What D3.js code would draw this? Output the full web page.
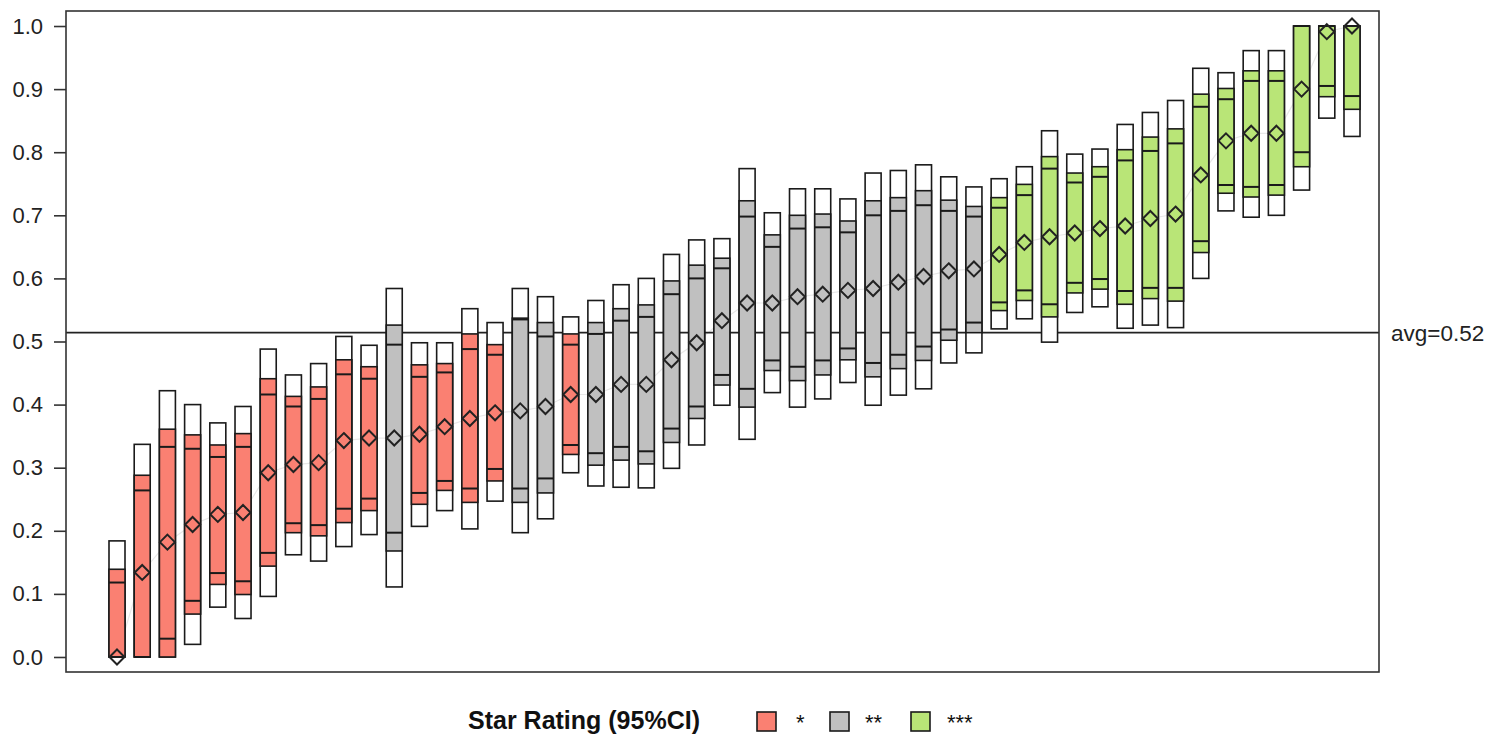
<!DOCTYPE html>
<html>
<head>
<meta charset="utf-8">
<script src="https://cdn.jsdelivr.net/npm/d3@7"></script>
<style>
  html, body { margin: 0; padding: 0; background: #fff; }
  svg { display: block; font-family: "Liberation Sans", Arial, sans-serif; }
</style>
</head>
<body>
<svg id="chart" width="1491" height="735"></svg>
<script>
// ---- data ----
const stars = [1,1,1,1,1,1,1,1,1,1,1,2,1,1,1,1,2,2,1,2,2,2,2,2,2,2,2,2,2,2,2,2,2,2,2,3,3,3,3,3,3,3,3,3,3,3,3,3,3,3];
const value = [0.000,0.134,0.182,0.210,0.226,0.229,0.292,0.305,0.308,0.343,0.347,0.347,0.353,0.365,0.378,0.387,0.390,0.397,0.416,0.416,0.432,0.432,0.471,0.498,0.533,0.561,0.561,0.571,0.575,0.581,0.584,0.594,0.603,0.612,0.615,0.638,0.657,0.666,0.672,0.679,0.683,0.695,0.702,0.764,0.818,0.830,0.830,0.900,0.991,1.000];
const outerHi = [0.184,0.337,0.422,0.400,0.371,0.397,0.488,0.447,0.465,0.508,0.494,0.584,0.498,0.498,0.552,0.530,0.584,0.571,0.539,0.565,0.590,0.600,0.638,0.661,0.663,0.774,0.704,0.742,0.742,0.726,0.767,0.771,0.780,0.761,0.745,0.758,0.777,0.834,0.797,0.805,0.844,0.863,0.882,0.933,0.926,0.961,0.961,1.000,1.000,1.000];
const midHi = [0.139,0.288,0.361,0.352,0.336,0.354,0.441,0.413,0.428,0.471,0.460,0.526,0.463,0.465,0.512,0.495,0.537,0.530,0.512,0.530,0.552,0.558,0.596,0.621,0.632,0.723,0.669,0.700,0.702,0.691,0.723,0.728,0.739,0.724,0.714,0.728,0.749,0.793,0.767,0.777,0.804,0.824,0.837,0.892,0.901,0.929,0.929,1.000,1.000,1.000];
const innerHi = [0.118,0.264,0.333,0.330,0.317,0.333,0.416,0.397,0.409,0.448,0.441,0.495,0.444,0.451,0.488,0.479,0.535,0.508,0.495,0.512,0.533,0.539,0.575,0.600,0.616,0.698,0.650,0.679,0.681,0.673,0.700,0.707,0.716,0.707,0.698,0.712,0.732,0.774,0.752,0.761,0.787,0.802,0.814,0.872,0.884,0.913,0.913,1.000,1.000,1.000];
const innerLo = [0.000,0.000,0.029,0.089,0.133,0.120,0.165,0.212,0.209,0.235,0.251,0.197,0.260,0.279,0.267,0.298,0.267,0.283,0.336,0.323,0.333,0.326,0.362,0.397,0.447,0.425,0.470,0.460,0.470,0.489,0.466,0.479,0.492,0.519,0.530,0.562,0.581,0.559,0.593,0.599,0.580,0.585,0.585,0.659,0.748,0.745,0.748,0.800,0.905,0.889];
const midLo = [0.000,0.000,0.000,0.068,0.115,0.099,0.144,0.197,0.192,0.213,0.232,0.168,0.242,0.264,0.245,0.279,0.245,0.260,0.321,0.304,0.312,0.306,0.340,0.378,0.431,0.396,0.454,0.438,0.447,0.471,0.444,0.457,0.470,0.502,0.514,0.549,0.565,0.539,0.577,0.583,0.559,0.568,0.564,0.641,0.735,0.729,0.732,0.777,0.888,0.868];
const outerLo = [0.000,0.000,0.000,0.020,0.079,0.061,0.096,0.162,0.152,0.175,0.194,0.111,0.207,0.232,0.203,0.247,0.197,0.219,0.292,0.271,0.269,0.268,0.299,0.336,0.399,0.345,0.419,0.396,0.409,0.435,0.399,0.415,0.425,0.466,0.482,0.520,0.536,0.499,0.546,0.555,0.521,0.526,0.522,0.600,0.707,0.697,0.700,0.740,0.854,0.825];
const avgValue = 0.514;
const avgLabel = "avg=0.52";
const yTicks = [0.0,0.1,0.2,0.3,0.4,0.5,0.6,0.7,0.8,0.9,1.0];
const legendTitle = "Star Rating (95%CI)";
const legendLabels = ["*", "**", "***"];
const starColors = {1: "#FA8072", 2: "#C0C0C0", 3: "#B9E577"};

// ---- layout ----
const svg = d3.select("#chart");
const frame = {left: 66, right: 1379, top: 11, bottom: 672};
const ids = d3.range(value.length);
const x = d3.scalePoint().domain(ids).range([117, 1352]);
const y = d3.scaleLinear().domain([-0.0238, 1.0238]).range([frame.bottom, frame.top]);
const bw = 16;
const ink = "#1a1a1a";

const rows = ids.map(i => ({i, s: stars[i], v: value[i], oh: outerHi[i], mh: midHi[i], ih: innerHi[i], il: innerLo[i], ml: midLo[i], ol: outerLo[i]}));

// faint connecting line of estimates (behind)
svg.append("path")
  .datum(rows)
  .attr("fill", "none")
  .attr("stroke", "#e8e8e8")
  .attr("stroke-width", 1.2)
  .attr("d", d3.line().x(d => x(d.i)).y(d => y(d.v)));

// avg line (behind bars)
svg.append("line")
  .attr("x1", frame.left).attr("x2", frame.right)
  .attr("y1", y(avgValue)).attr("y2", y(avgValue))
  .attr("stroke", "#222").attr("stroke-width", 1.6);

const g = svg.append("g").selectAll("g").data(rows).join("g");

g.append("rect")
  .attr("x", d => x(d.i) - bw/2).attr("width", bw)
  .attr("y", d => y(d.oh)).attr("height", d => y(d.ol) - y(d.oh))
  .attr("fill", "#fff").attr("stroke", ink).attr("stroke-width", 1.6);

g.append("rect")
  .attr("x", d => x(d.i) - bw/2).attr("width", bw)
  .attr("y", d => y(d.mh)).attr("height", d => y(d.ml) - y(d.mh))
  .attr("fill", d => starColors[d.s]).attr("stroke", ink).attr("stroke-width", 1.6);

g.append("line")
  .attr("x1", d => x(d.i) - bw/2).attr("x2", d => x(d.i) + bw/2)
  .attr("y1", d => y(d.ih)).attr("y2", d => y(d.ih))
  .attr("stroke", ink).attr("stroke-width", 2);
g.append("line")
  .attr("x1", d => x(d.i) - bw/2).attr("x2", d => x(d.i) + bw/2)
  .attr("y1", d => y(d.il)).attr("y2", d => y(d.il))
  .attr("stroke", ink).attr("stroke-width", 2);

const dsz = 7.5;
g.append("path")
  .attr("transform", d => `translate(${x(d.i)},${y(d.v)})`)
  .attr("d", `M0,${-dsz}L${dsz},0L0,${dsz}L${-dsz},0Z`)
  .attr("fill", "none").attr("stroke", "#222").attr("stroke-width", 2);

// frame
svg.append("rect")
  .attr("x", frame.left).attr("y", frame.top)
  .attr("width", frame.right - frame.left).attr("height", frame.bottom - frame.top)
  .attr("fill", "none").attr("stroke", "#333").attr("stroke-width", 1.6);

// y axis
const yAxis = d3.axisLeft(y).tickValues(yTicks).tickFormat(d3.format(".1f")).tickSize(12).tickPadding(11);
const ax = svg.append("g").attr("transform", `translate(${frame.left},0)`).call(yAxis);
ax.select(".domain").remove();
ax.selectAll(".tick line").attr("stroke", "#333").attr("stroke-width", 1.6);
ax.selectAll(".tick text").attr("fill", "#222").style("font-size", "22px").style("font-family", "'Liberation Sans', Arial, sans-serif");

// avg label
svg.append("text")
  .attr("x", 1391).attr("y", y(avgValue)).attr("dy", "0.35em")
  .attr("fill", "#222").style("font-size", "22.5px").text(avgLabel);

// legend
const leg = svg.append("g");
leg.append("text").attr("x", 468).attr("y", 729)
  .style("font-size", "25px").style("font-weight", "bold").attr("fill", "#111").text(legendTitle);
const swX = [757, 830, 911];
const lblX = [796, 865, 947];
[1,2,3].forEach((s, k) => {
  leg.append("rect").attr("x", swX[k]).attr("y", 712).attr("width", 19).attr("height", 19)
    .attr("fill", starColors[s]).attr("stroke", ink).attr("stroke-width", 1.6);
  leg.append("text").attr("x", lblX[k]).attr("y", 730)
    .style("font-size", "22px").attr("fill", "#111").text(legendLabels[k]);
});
</script>
</body>
</html>
